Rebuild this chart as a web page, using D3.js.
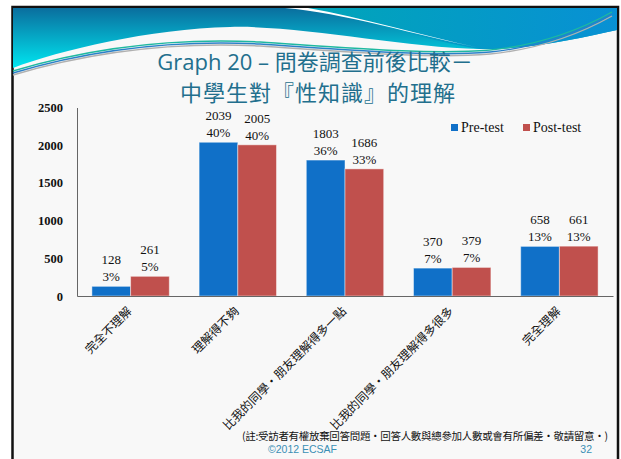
<!DOCTYPE html>
<html><head><meta charset="utf-8">
<script src="https://cdn.jsdelivr.net/npm/d3@7/dist/d3.min.js"></script>
<style>html,body{margin:0;padding:0;background:#fff;}svg{display:block;}</style>
</head><body>
<svg id="c" width="621" height="459"></svg>
<script>
const categories = ["完全不理解","理解得不夠","比我的同學・朋友理解得多一點","比我的同學・朋友理解得多很多","完全理解"];
const series = ["Pre-test","Post-test"];
const preValues = [128, 2039, 1803, 370, 658];
const postValues = [261, 2005, 1686, 379, 661];
const prePct = ["3%","40%","36%","7%","13%"];
const postPct = ["5%","40%","33%","7%","13%"];
const yTicks = [0,500,1000,1500,2000,2500];
const colors = ["#1070c8","#c0504d"];

const svg = d3.select("#c");
const defs = svg.append("defs");
const g1 = defs.append("linearGradient").attr("id","gl").attr("gradientUnits","userSpaceOnUse")
  .attr("x1",0).attr("y1",8).attr("x2",0).attr("y2",68);
g1.append("stop").attr("offset",0).attr("stop-color","#0a6e9e");
g1.append("stop").attr("offset",1).attr("stop-color","#00e6f0");
const g2 = defs.append("linearGradient").attr("id","gr").attr("gradientUnits","userSpaceOnUse")
  .attr("x1",300).attr("y1",8).attr("x2",618).attr("y2",40);
g2.append("stop").attr("offset",0).attr("stop-color","#00a6b8");
g2.append("stop").attr("offset",1).attr("stop-color","#0890d4");

// slide
svg.append("rect").attr("x",12.5).attr("y",7).attr("width",605.5).attr("height",500)
  .attr("fill","#f8f8f8").attr("stroke","#111").attr("stroke-width",2.5);
// header
svg.append("path").attr("d","M13,8 L617,8 L617,30 C580,38 530,50 480,49 C400,47 300,25 230,27 C150,29 60,50 13,68 Z").attr("fill","url(#gl)");
svg.append("path").attr("d","M300,8 L617,8 L617,30 C580,38 530,50 480,49 C420,40 360,16 300,8 Z").attr("fill","url(#gr)");
svg.append("path").attr("d","M285,8 C340,12 420,36 480,48 C420,35 360,17 308,8 Z").attr("fill","#ffffff");
const rib = "M13,71 C100,45 180,38 260,42 C350,48 430,55 490,50 C540,45 580,30 612,12";
[["#b0b0b0",4],["#2a80c8",2],["#1fb8a0",0]].forEach(([c,o])=>{
  svg.append("path").attr("d",rib).attr("transform",`translate(0,${o})`).attr("fill","none").attr("stroke",c).attr("stroke-width",1.4);
});

// title
const tf = "'Open Sans','Noto Sans CJK TC',sans-serif";
svg.append("text").attr("x",315).attr("y",70).attr("text-anchor","middle").attr("font-family",tf)
  .attr("font-size",22).attr("fill","#226f8d").text("Graph 20 – 問卷調查前後比較－");
svg.append("text").attr("x",318).attr("y",101).attr("text-anchor","middle").attr("font-family",tf)
  .attr("font-size",22).attr("letter-spacing",1).attr("fill","#226f8d").text("中學生對『性知識』的理解");

// scales
const y = d3.scaleLinear().domain([0,2500]).range([296,107.5]);
const x0 = d3.scaleBand().domain(categories).range([77,613]).paddingInner(0.278).paddingOuter(0.139);
const x1 = d3.scaleBand().domain(series).range([0,x0.bandwidth()]);

const serif = "'Liberation Serif','DejaVu Serif',serif";
// y axis
const ya = svg.append("g").attr("transform","translate(77,0)")
  .call(d3.axisLeft(y).tickValues(yTicks).tickFormat(d3.format("d")).tickSize(0).tickPadding(14));
ya.select(".domain").attr("stroke","#666");
ya.selectAll("text").attr("font-family",serif).attr("font-size",12.5).attr("font-weight","bold").attr("fill","#111");

// bars
const data = categories.map((c,i)=>({c, vals:[
  {s:series[0], v:preValues[i], p:prePct[i]},
  {s:series[1], v:postValues[i], p:postPct[i]}]}));
const grp = svg.selectAll("g.cat").data(data).join("g").attr("class","cat")
  .attr("transform",d=>`translate(${x0(d.c)},0)`);
grp.selectAll("rect").data(d=>d.vals).join("rect")
  .attr("x",d=>x1(d.s)).attr("width",x1.bandwidth())
  .attr("y",d=>y(d.v)).attr("height",d=>y(0)-y(d.v))
  .attr("fill",(d,i)=>colors[i]).attr("stroke","rgba(255,255,255,0.45)").attr("stroke-width",1);
grp.selectAll("text.v").data(d=>d.vals).join("text").attr("class","v")
  .attr("x",d=>x1(d.s)+x1.bandwidth()/2).attr("y",d=>y(d.v)-22)
  .attr("text-anchor","middle").attr("font-family",serif).attr("font-size",13).attr("fill","#111").text(d=>d.v);
grp.selectAll("text.p").data(d=>d.vals).join("text").attr("class","p")
  .attr("x",d=>x1(d.s)+x1.bandwidth()/2).attr("y",d=>y(d.v)-5)
  .attr("text-anchor","middle").attr("font-family",serif).attr("font-size",13).attr("fill","#111").text(d=>d.p);

// x axis
const xa = svg.append("g").attr("transform","translate(0,296)").call(d3.axisBottom(x0).tickSize(0).tickFormat(""));
xa.select(".domain").attr("stroke","#666");
svg.selectAll("text.xl").data(categories).join("text").attr("class","xl")
  .attr("transform",d=>`translate(${x0(d)+x0.bandwidth()/2+2},312) rotate(-45)`)
  .attr("text-anchor","end").attr("font-family","'Noto Sans CJK TC',sans-serif").attr("font-size",12).attr("fill","#111").text(d=>d);

// legend
const lx = [451,523];
series.forEach((s,i)=>{
  svg.append("rect").attr("x",lx[i]).attr("y",124).attr("width",7).attr("height",7).attr("fill",colors[i]);
  svg.append("text").attr("x",lx[i]+10).attr("y",132).attr("font-family",serif).attr("font-size",14).attr("fill","#111").text(s);
});

// footer
svg.append("text").attr("x",242).attr("y",440).attr("font-family","'Noto Sans CJK TC',sans-serif").attr("font-size",10.5)
  .attr("textLength",366).attr("lengthAdjust","spacing").attr("fill","#111")
  .text("(註:受訪者有權放棄回答問題・回答人數與總參加人數或會有所偏差・敬請留意・)");
svg.append("text").attr("x",268).attr("y",453).attr("font-family","'Liberation Sans',Arial,sans-serif").attr("font-size",10.5).attr("fill","#3a8fb5").text("©2012 ECSAF");
svg.append("text").attr("x",592).attr("y",453).attr("text-anchor","end").attr("font-family","'Liberation Sans',Arial,sans-serif").attr("font-size",10.5).attr("fill","#3a8fb5").text("32");
</script>
</body></html>
